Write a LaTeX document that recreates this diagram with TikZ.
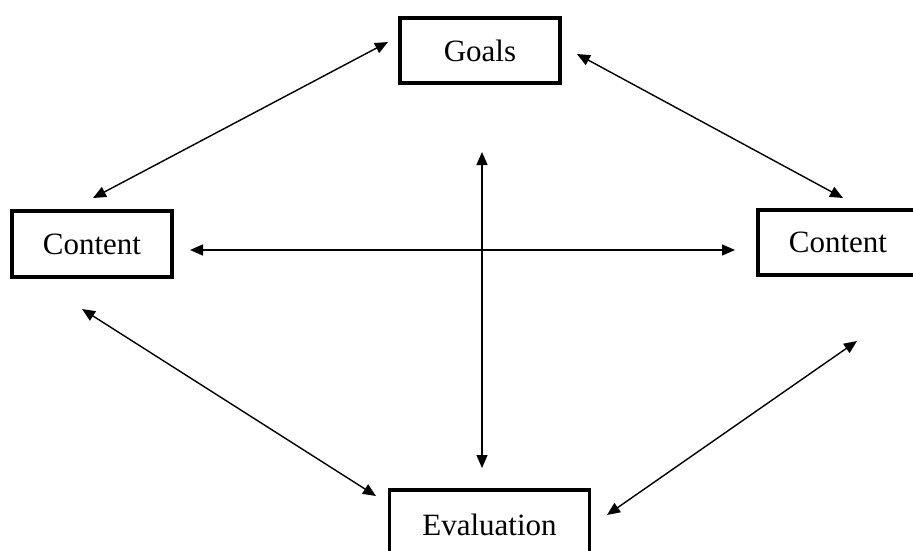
\documentclass[tikz,border=0pt]{standalone}
\usepackage{fontspec}
\setmainfont{Liberation Serif}
\usetikzlibrary{arrows.meta}
\tikzset{
  boxnode/.style={draw=black, line width=3.5pt, fill=white, inner sep=0pt,
    font=\fontsize{31}{36}\selectfont},
  link/.style={line width=1.4pt, {Triangle[length=13pt,width=11pt]}-{Triangle[length=13pt,width=11pt]}}
}
\begin{document}
\begin{tikzpicture}[x=1pt,y=-1pt]
\useasboundingbox (0,0) rectangle (913,551);
% boxes
\node[boxnode, minimum width=160pt, minimum height=65pt] (goals) at (480,50.5) {Goals};
\node[boxnode, minimum width=160pt, minimum height=66pt] (cl) at (92,244) {Content};
\node[boxnode, minimum width=160pt, minimum height=65pt] (cr) at (838,242.5) {Content};
\node[boxnode, minimum width=200pt, minimum height=70pt] (ev) at (489.5,525) {Evaluation};
% arrow end points
\coordinate (g1) at (388,42);
\coordinate (c1) at (93,198);
\coordinate (g2) at (577,54);
\coordinate (c2) at (843,198);
\coordinate (c3) at (82,309);
\coordinate (e1) at (376,496);
\coordinate (c4) at (857,341);
\coordinate (e2) at (607,515);
\coordinate (hl) at (190,250);
\coordinate (hr) at (735,250);
\coordinate (vt) at (482,152);
\coordinate (vb) at (482,468);
% connectors
\draw[link] (g1) -- (c1);
\draw[link] (g2) -- (c2);
\draw[link] (c3) -- (e1);
\draw[link] (c4) -- (e2);
\draw[link] (hl) -- (hr);
\draw[link] (vt) -- (vb);
\end{tikzpicture}
\end{document}
